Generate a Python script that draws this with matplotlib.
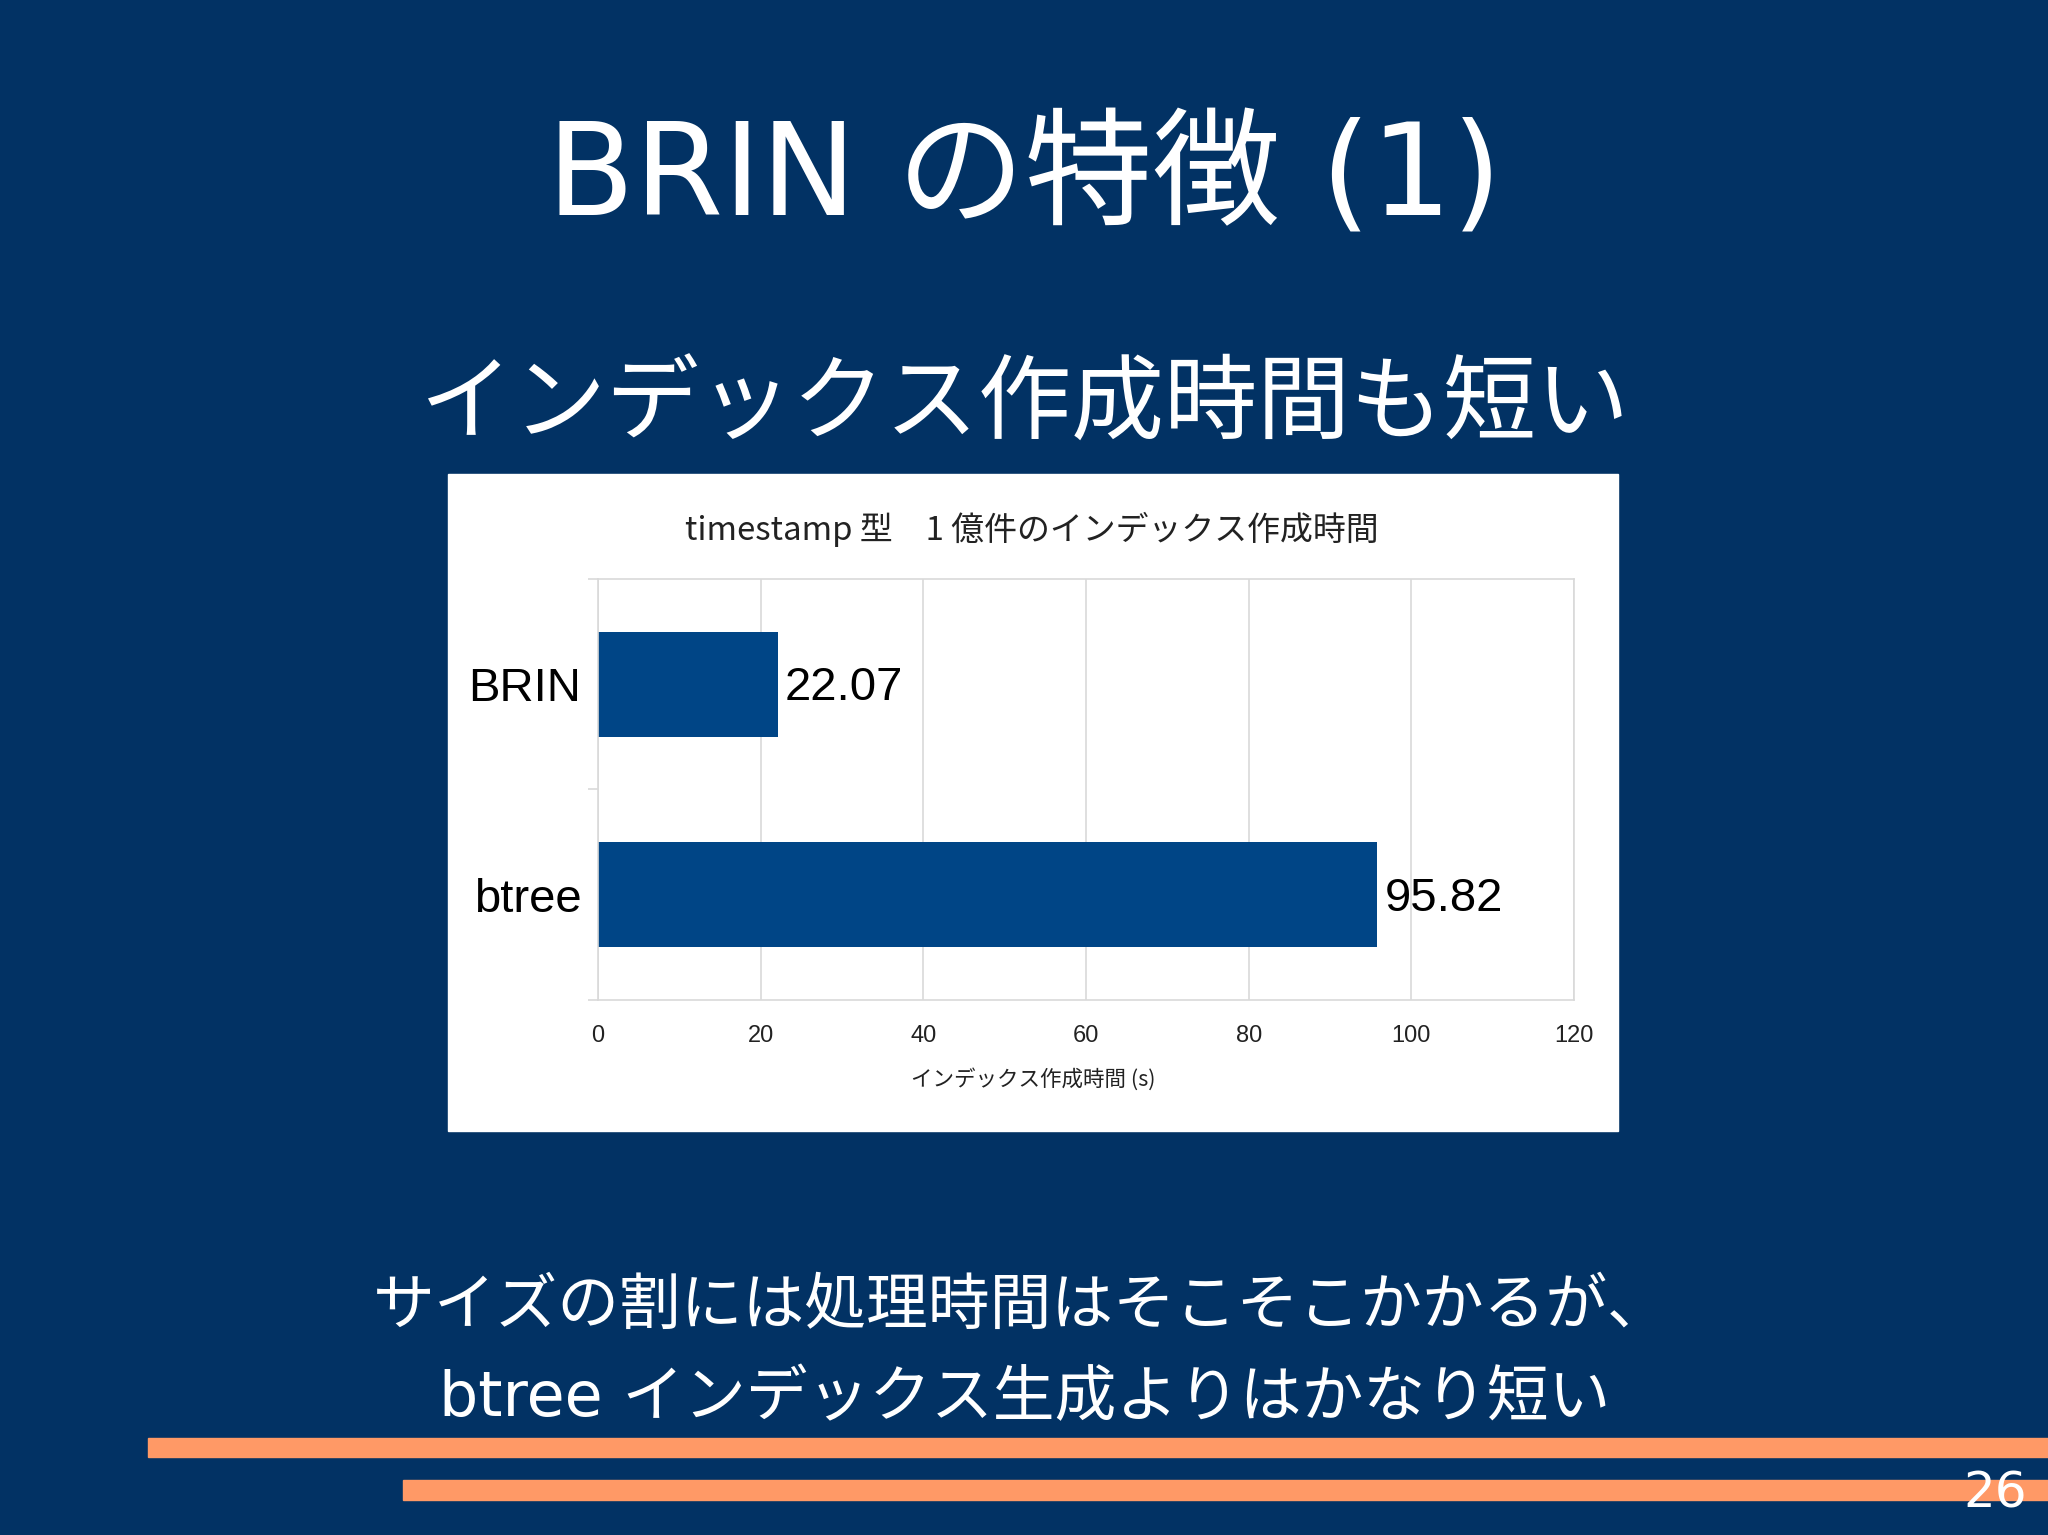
import matplotlib.pyplot as plt
from matplotlib.patches import Rectangle

# slide data
categories = ['BRIN', 'btree']
times = [22.07, 95.82]
x_ticks = [0, 20, 40, 60, 80, 100, 120]

slide_title = 'BRIN の特徴 (1)'
subtitle = 'インデックス作成時間も短い'
chart_title = 'timestamp 型\u30001 億件のインデックス作成時間'
x_label = 'インデックス作成時間 (s)'
note_1 = 'サイズの割には処理時間はそこそこかかるが、'
note_2 = 'btree インデックス生成よりはかなり短い'
page_no = '26'

W, H = 2048, 1535
bg = '#023264'
orange = '#ff9966'
bar_color = '#004586'
grid_color = '#d9d9d9'
jp = ['Noto Sans CJK JP', 'DejaVu Sans']
slide_font = ['DejaVu Sans', 'Noto Sans CJK JP']
lib = ['Liberation Sans', 'DejaVu Sans']

fig = plt.figure(figsize=(W / 100, H / 100), dpi=100, facecolor=bg)


def fx(px):
    return px / W


def fy(py):
    return 1 - py / H


# slide texts
fig.text(0.5, fy(180), slide_title, color='white', fontsize=92, family=slide_font,
         ha='center', va='center')
fig.text(0.5, fy(406), subtitle, color='white', fontsize=67, family=jp,
         ha='center', va='center')
fig.text(fx(1021), fy(1307), note_1, color='white', fontsize=44.5, family=slide_font,
         ha='center', va='center')
fig.text(fx(1025), fy(1399), note_2, color='white', fontsize=44.5, family=slide_font,
         ha='center', va='center')

# orange strips at the bottom
fig.patches.append(Rectangle((fx(148), fy(1457)), fx(W - 148), (1457 - 1438) / H,
                             transform=fig.transFigure, color=orange, zorder=1))
fig.patches.append(Rectangle((fx(403), fy(1500)), fx(W - 403), (1500 - 1480) / H,
                             transform=fig.transFigure, color=orange, zorder=1))
fig.text(fx(2027), fy(1494), page_no, color='white', fontsize=36, family=slide_font,
         ha='right', va='center', zorder=3)

# white chart box
fig.patches.append(Rectangle((fx(448), fy(1131)), fx(1618 - 448), (1131 - 474) / H,
                             transform=fig.transFigure, color='white', zorder=-1))
fig.text(fx(1032), fy(529), chart_title, color='#222222', fontsize=23.7, family=jp,
         ha='center', va='center')

# bar chart
ax = fig.add_axes([fx(598), fy(1000), fx(1574 - 598), (1000 - 579) / H])
ax.set_zorder(2)
ax.set_facecolor('white')
pos = list(range(len(categories)))
ax.barh(pos, times, height=0.5, color=bar_color, zorder=2)
for i, v in zip(pos, times):
    ax.annotate(f'{v:.2f}', xy=(v, i), xytext=(5, -3), textcoords='offset points',
                ha='left', va='center', fontsize=34, family=lib, color='black')

ax.set_xlim(0, 120)
ax.set_ylim(len(categories) - 0.5, -0.5)
ax.set_xticks(x_ticks)
ax.set_xticklabels([str(t) for t in x_ticks], fontsize=17, family=lib, color='#222222')
ax.tick_params(axis='x', length=0, pad=18)
ax.set_yticks(pos)
ax.set_yticklabels(categories, fontsize=34, family=lib, color='black')
ax.tick_params(axis='y', which='major', length=0, pad=12)
ax.set_yticks([-0.5, 0.5, 1.5], minor=True)
ax.tick_params(axis='y', which='minor', length=7, color=grid_color, width=1.2)
ax.grid(axis='x', color=grid_color, linewidth=1.2, zorder=0)
for s in ax.spines.values():
    s.set_color(grid_color)
    s.set_linewidth(1.2)
ax.set_xlabel(x_label, fontsize=15.5, family=jp, color='#222222')
ax.xaxis.set_label_coords((1033 - 598) / 976, -68 / 421)

fig.savefig('out.png', dpi=100, facecolor=bg)
